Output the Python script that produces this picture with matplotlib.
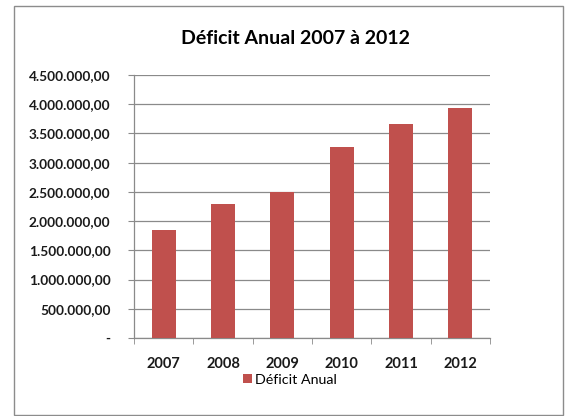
import matplotlib
matplotlib.use("Agg")
import matplotlib.pyplot as plt
from matplotlib.patches import Rectangle
from matplotlib.ticker import FuncFormatter, FixedLocator

years = ["2007", "2008", "2009", "2010", "2011", "2012"]
deficit = [1850000, 2290000, 2500000, 3260000, 3660000, 3940000]
series_name = "Déficit Anual"
title = "Déficit Anual 2007 à 2012"
yticks = [0, 500000, 1000000, 1500000, 2000000, 2500000, 3000000, 3500000, 4000000, 4500000]

plt.rcParams['font.family'] = ['Lato', 'DejaVu Sans']

W, H = 568, 416
fig = plt.figure(figsize=(W / 100, H / 100), dpi=100)
fig.patch.set_facecolor("white")

# chart border
fig.patches.append(Rectangle((14 / W, 1 - 415 / H), (563 - 14) / W, (415 - 6) / H,
                             transform=fig.transFigure, fill=False,
                             edgecolor="#8c8c8c", linewidth=1.0))

ax = fig.add_axes([134 / W, 1 - 338 / H, (490 - 134) / W, (338 - 75) / H])
x = list(range(len(years)))
bars = ax.bar(x, deficit, width=0.4, color="#C0504D", label=series_name, zorder=3)

ax.set_xlim(-0.5, len(years) - 0.5)
ax.set_ylim(0, 4500000)
ax.set_yticks(yticks)

def fmt(v, pos):
    if v == 0:
        return "-"
    s = f"{int(v):,}".replace(",", ".")
    return s + ",00"

ax.yaxis.set_major_formatter(FuncFormatter(fmt))
ax.grid(axis="y", color="#8a8a8a", linewidth=0.9, zorder=0)
ax.set_axisbelow(True)

ax.set_xticks(x)
ax.set_xticklabels(years)
ax.xaxis.set_minor_locator(FixedLocator([i - 0.5 for i in range(len(years) + 1)]))
ax.tick_params(axis="x", which="major", length=0, pad=14, labelsize=10.5, labelcolor="#1a1a1a")
ax.tick_params(axis="x", which="minor", length=4, direction="out", color="#8a8a8a")
ax.tick_params(axis="y", length=4, direction="out", color="#8a8a8a", pad=13,
               labelsize=9.8, labelcolor="#1a1a1a")
for lab in ax.get_yticklabels() + ax.get_xticklabels():
    lab.set_fontweight("bold")

for side in ["top", "right"]:
    ax.spines[side].set_visible(False)
for side in ["left", "bottom"]:
    ax.spines[side].set_color("#8a8a8a")
    ax.spines[side].set_linewidth(0.9)

fig.text(295 / W, 1 - 38 / H, title, ha="center", va="center",
         fontsize=14, fontweight="bold", color="black")

leg = fig.legend(handles=[bars], labels=[series_name], loc="center",
                 bbox_to_anchor=(290 / W, 1 - 380 / H), frameon=False,
                 fontsize=10.3, handlelength=0.6, handleheight=0.6, handletextpad=0.25,
                 borderpad=0, borderaxespad=0)

fig.savefig("out.png", dpi=100, facecolor="white")
